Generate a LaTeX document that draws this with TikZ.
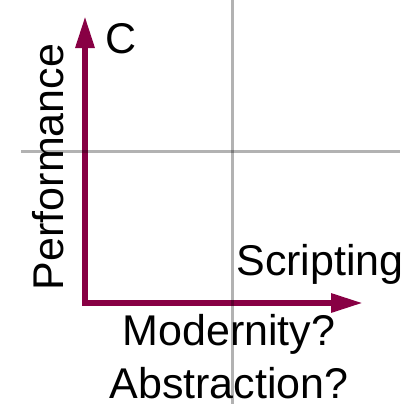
\documentclass[tikz,border=0pt]{standalone}
\usepackage{fontspec}
\setmainfont{Liberation Sans}
\usetikzlibrary{arrows.meta}
\definecolor{axisred}{HTML}{880044}
\definecolor{gridgray}{HTML}{000000}

\begin{document}
\begin{tikzpicture}[
    x=1pt, y=-1pt,
    every node/.style={inner sep=0pt, font=\fontsize{43pt}{53pt}\selectfont},
    axis/.style={
        {Triangle[length=32pt,width=18pt]}-{Triangle[length=32pt,width=18pt]},
        draw=axisred, line width=6pt, miter limit=10,
    },
    divider/.style={draw=gridgray, line width=3pt, opacity=0.3},
    axislabel/.style={anchor=base},
]

% Frame
\useasboundingbox (0,0) rectangle (411,404);

% =============================================================
% AXES
% =============================================================
\coordinate (ytip) at (85,16);
\coordinate (origin) at (85,303);
\coordinate (xtip) at (363,303);

\draw[axis] (ytip) |- (xtip);

% Labels
\node[axislabel] (c) at (121,53) {C};
\node[axislabel, rotate=90] (perf) at (63,167) {Performance};
\node[axislabel] (script) at (320,275) {Scripting};
\node[align=center] (modern) at (229,357) {Modernity?\\Abstraction?};

% =============================================================
% QUADRANT DIVIDERS
% =============================================================
\coordinate (vtop) at (232,0);
\coordinate (vbot) at (232,404);
\coordinate (hleft) at (21,151);
\coordinate (hright) at (400,151);

\draw[divider] (vtop) -- (vbot);
\draw[divider] (hleft) -- (hright);

\end{tikzpicture}
\end{document}
